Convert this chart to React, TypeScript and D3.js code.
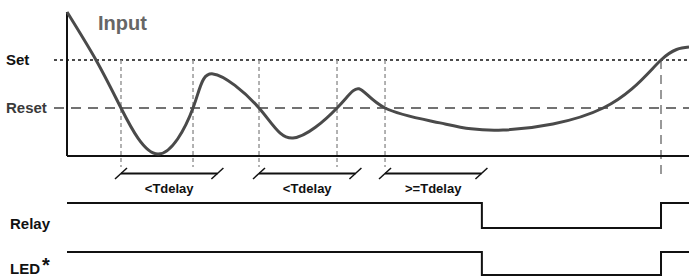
import React from 'react';
import * as d3 from 'd3';

// input signal, time (0..100) vs level (Reset = 1, Set = 2)
const inputTime = [0, 4.66, 8.68, 14.63, 20.26, 23.47, 30.87, 36.33, 43.41, 46.95, 51.13, 59.97, 70.1, 86.2, 95.5, 100];
const inputLevel = [3.0, 2.0, 1.0, 0.04, 1.0, 1.71, 1.0, 0.375, 1.0, 1.4, 1.0, 0.69, 0.54, 1.0, 2.0, 2.27];

const setLevel = 2;
const resetLevel = 1;

// crossings that start a delay timer, and the final Set crossing
const crossTimes = [8.68, 20.26, 30.87, 43.41, 51.13];
const setCross = 95.5;

const brackets = [
  { start: 8.68, label: '<Tdelay' },
  { start: 30.87, label: '<Tdelay' },
  { start: 51.13, label: '>=Tdelay' },
];
const tDelay = 15.5;

// relay / LED states: 1 = energised, 0 = released
const stateTime = [0, 66.7, 95.5, 100];
const relayState = [1, 0, 1, 1];
const ledState = [1, 0, 1, 1];

const W = 689;
const H = 276;
const font = "Arial, 'Liberation Sans', sans-serif";

export default function App() {
  const x = d3.scaleLinear().domain([0, 100]).range([67, 689]);
  const y = d3.scaleLinear().domain([0, 3]).range([156, 12]);

  const pts = inputTime.map((t, i) => [t, inputLevel[i]] as [number, number]);
  const line = d3.line<[number, number]>()
    .x(d => x(d[0]))
    .y(d => y(d[1]))
    .curve(d3.curveNatural);

  const relayY = d3.scaleLinear().domain([0, 1]).range([228, 203]);
  const ledY = d3.scaleLinear().domain([0, 1]).range([275, 252]);
  const step = (yy: d3.ScaleLinear<number, number>, states: number[]) =>
    d3.line<number>()
      .x((_, i) => x(stateTime[i]))
      .y(d => yy(d))
      .curve(d3.curveStepAfter)(states) || '';

  const lineStart = x(0) - 13;
  const bracketY = 173.5;

  return (
    <svg width={W} height={H} style={{ position: 'absolute', left: 0, top: 0, background: '#fff' }} fontFamily={font}>
      {/* threshold lines */}
      <line x1={lineStart} x2={W} y1={y(setLevel)} y2={y(setLevel)} stroke="#111" strokeWidth={1.5} strokeDasharray="3,3" />
      <line x1={lineStart} x2={W} y1={y(resetLevel)} y2={y(resetLevel)} stroke="#444" strokeWidth={1.5} strokeDasharray="10,7" />

      {/* crossing markers */}
      {crossTimes.map((t, i) => (
        <line key={i} x1={x(t)} x2={x(t)} y1={y(setLevel)} y2={167} stroke="#999" strokeWidth={1.5} strokeDasharray="4,3" />
      ))}
      <line x1={x(setCross)} x2={x(setCross)} y1={y(setLevel)} y2={175} stroke="#999" strokeWidth={2} strokeDasharray="9,6" />

      {/* axes */}
      <line x1={x(0)} x2={x(0)} y1={y(3)} y2={y(0)} stroke="#111" strokeWidth={2} />
      <line x1={x(0)} x2={W} y1={y(0)} y2={y(0)} stroke="#111" strokeWidth={2} />

      <path d={line(pts) || ''} fill="none" stroke="#4a4a4a" strokeWidth={3} />

      <text x={98} y={30} fontSize={20} fontWeight="bold" fill="#666">Input</text>
      <text x={6} y={65} fontSize={15} fontWeight="bold" fill="#111">Set</text>
      <text x={6} y={113} fontSize={15} fontWeight="bold" fill="#3a3a3a">Reset</text>

      {/* delay brackets */}
      {brackets.map((b, i) => {
        const a = x(b.start);
        const c = x(b.start + tDelay);
        return (
          <g key={i}>
            <line x1={a} x2={c} y1={bracketY} y2={bracketY} stroke="#111" strokeWidth={2} />
            <line x1={a - 6} x2={a + 6} y1={bracketY + 5.5} y2={bracketY - 5.5} stroke="#111" strokeWidth={1.5} />
            <line x1={c - 6} x2={c + 6} y1={bracketY + 5.5} y2={bracketY - 5.5} stroke="#111" strokeWidth={1.5} />
            <text x={(a + c) / 2} y={193} fontSize={13} fontWeight="bold" textAnchor="middle" fill="#111">{b.label}</text>
          </g>
        );
      })}

      {/* outputs */}
      <path d={step(relayY, relayState)} fill="none" stroke="#111" strokeWidth={2} />
      <path d={step(ledY, ledState)} fill="none" stroke="#111" strokeWidth={2} />
      <text x={10} y={229} fontSize={15} fontWeight="bold" fill="#111">Relay</text>
      <text x={10} y={273.5} fontSize={15} fontWeight="bold" fill="#111">LED</text>
      <text x={42} y={272} fontSize={20} fontWeight="bold" fill="#111">*</text>
    </svg>
  );
}
